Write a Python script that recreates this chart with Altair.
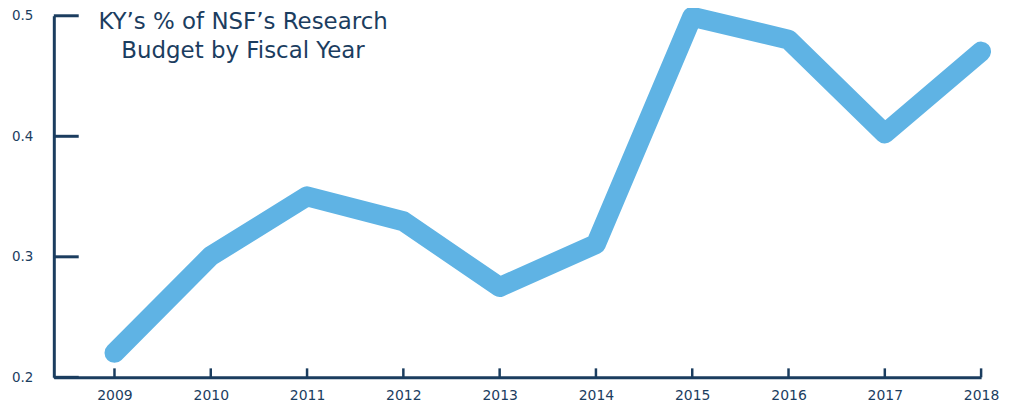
import altair as alt
import pandas as pd

years = [2009, 2010, 2011, 2012, 2013, 2014, 2015, 2016, 2017, 2018]
share = [0.2203, 0.3006, 0.3502, 0.3295, 0.2749, 0.3105, 0.4992, 0.4802, 0.4023, 0.4703]
y_ticks = [0.2, 0.3, 0.4, 0.5]
title_lines = "KY\u2019s % of NSF\u2019s Research\nBudget by Fiscal Year"

NAVY = "#1b3d5f"
BLUE = "#5fb3e4"
FONT = "DejaVu Sans"
W, H = 931, 363

df = pd.DataFrame({"year": years, "share": share})
ytick_df = pd.DataFrame({"v": y_ticks})
xtick_df = pd.DataFrame({"year": years})

xscale = alt.Scale(domain=[2008.37, 2018], nice=False, zero=False)
yscale = alt.Scale(domain=[0.2, 0.5], nice=False, zero=False)

line = alt.Chart(df).mark_line(
    color=BLUE, strokeWidth=20, strokeCap="round", strokeJoin="round"
).encode(
    x=alt.X("year:Q", scale=xscale, axis=alt.Axis(
        values=years, format="d", title=None, ticks=False, tickSize=0, grid=False,
        domainColor=NAVY, domainWidth=3, labelColor=NAVY, labelFont=FONT,
        labelFontSize=14, labelPadding=11, labelFlush=False, labelOverlap=False)),
    y=alt.Y("share:Q", scale=yscale, axis=alt.Axis(
        values=y_ticks, format=".1f", title=None, ticks=False, tickSize=0, grid=False,
        domainColor=NAVY, domainWidth=3, labelColor=NAVY, labelFont=FONT,
        labelFontSize=13.5, labelPadding=21, labelFlush=False, labelOverlap=False)),
)

yticks = alt.Chart(ytick_df).mark_rule(color=NAVY, strokeWidth=3).encode(
    y=alt.Y("v:Q", scale=yscale), x=alt.value(0), x2=alt.value(25)
)
xticks = alt.Chart(xtick_df).mark_rule(color=NAVY, strokeWidth=2.5).encode(
    x=alt.X("year:Q", scale=xscale), y=alt.value(H - 9), y2=alt.value(H)
)
title = alt.Chart(pd.DataFrame({"t": [title_lines]})).mark_text(
    align="center", baseline="alphabetic", font=FONT, fontSize=23,
    lineHeight=29, color=NAVY, lineBreak="\n"
).encode(x=alt.value(190), y=alt.value(13), text="t:N")

chart = alt.layer(xticks, yticks, line, title).properties(
    width=W, height=H,
    padding={"left": 46, "top": 7, "right": 25, "bottom": 30},
    autosize=alt.AutoSizeParams(type="none"),
).configure_view(stroke=None)

chart.save("out.html", embed_options={"renderer": "svg", "actions": False})
